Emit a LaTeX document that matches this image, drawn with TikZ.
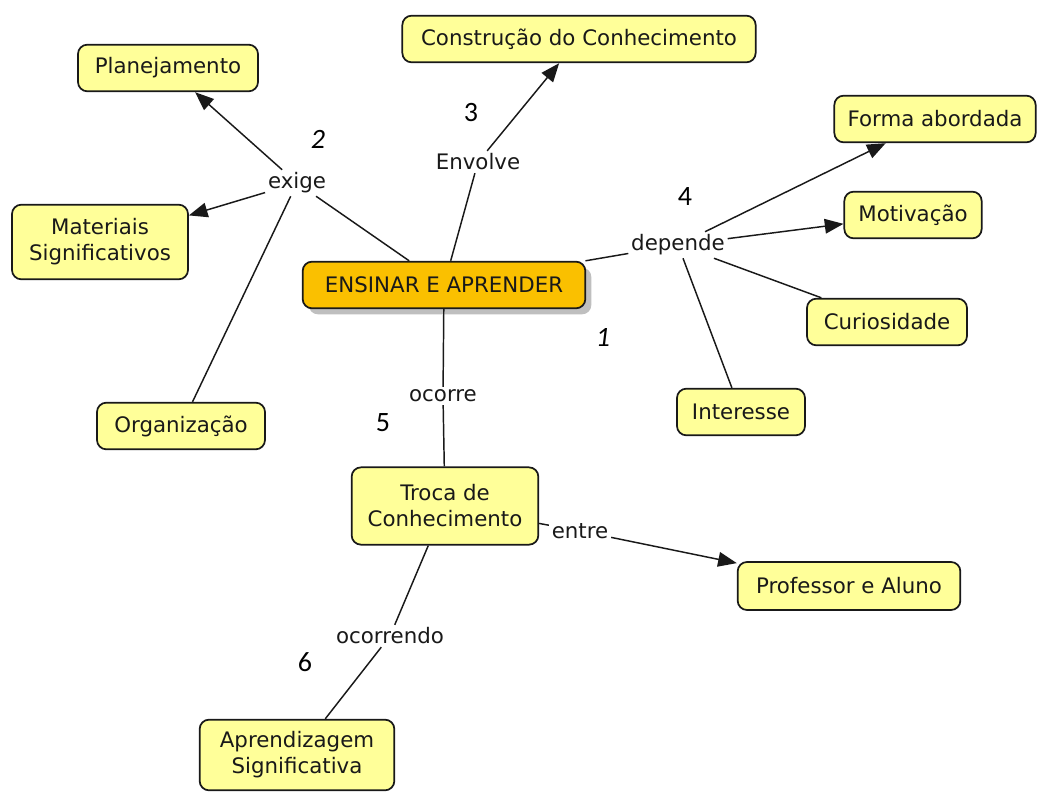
\documentclass[tikz,border=0pt]{standalone}
\usepackage{fontspec}
\setmainfont{DejaVu Sans}
\newfontfamily\numfont{Carlito}
\usetikzlibrary{arrows.meta,shadows}
\definecolor{conceptfill}{RGB}{255,255,153}
\definecolor{mainfill}{RGB}{250,192,0}
\definecolor{inkdark}{RGB}{25,25,25}
\begin{document}
\begin{tikzpicture}[x=0.75pt,y=-0.75pt,
  concept/.style={draw=inkdark,line width=1.3pt,rounded corners=7pt,fill=conceptfill,
    align=center,inner sep=2pt,font=\fontsize{16}{19.5}\selectfont,text=inkdark,
    minimum height=35pt},
  mainconcept/.style={concept,fill=mainfill,
    drop shadow={shadow xshift=4.5pt,shadow yshift=-4.5pt,fill=black!25,opacity=1}},
  linkword/.style={inner sep=2pt,font=\fontsize{16}{19}\selectfont,text=inkdark},
  stepnum/.style={font=\numfont\fontsize{21}{24}\selectfont,text=black},
  link/.style={draw=inkdark,line width=1.1pt},
  linkarrow/.style={link,-{Triangle[length=14pt,width=11pt]}}]
\useasboundingbox (0,0) rectangle (1040,792);

% concepts
\node[mainconcept,minimum width=212pt] (ens) at (444,285) {ENSINAR E APRENDER};
\node[concept,minimum width=135pt] (plan) at (168,68) {Planejamento};
\node[concept,minimum width=265pt] (const) at (579,39) {Construção do Conhecimento};
\node[concept,minimum width=151pt] (forma) at (935,119) {Forma abordada};
\node[concept,minimum width=103pt] (motiv) at (913,215) {Motivação};
\node[concept,minimum width=132pt,minimum height=56pt] (mat) at (100,242) {Materiais\\Significativos};
\node[concept,minimum width=120pt] (curio) at (887,322) {Curiosidade};
\node[concept,minimum width=96pt] (inter) at (741,412) {Interesse};
\node[concept,minimum width=126pt] (org) at (181,426) {Organização};
\node[concept,minimum width=140pt,minimum height=58pt] (troca) at (445,506) {Troca de\\Conhecimento};
\node[concept,minimum width=167pt,minimum height=36pt] (prof) at (849,586) {Professor e Aluno};
\node[concept,minimum width=146pt,minimum height=53pt] (aprend) at (297,755) {Aprendizagem\\Significativa};

% linking phrases
\node[linkword] (exige) at (297,183) {exige};
\node[linkword] (envolve) at (478,162) {Envolve};
\node[linkword] (depende) at (678,245) {depende};
\node[linkword] (ocorre) at (443,396) {ocorre};
\node[linkword] (entre) at (580,531) {entre};
\node[linkword] (ocorrendo) at (390,636) {ocorrendo};

% step numbers
\node[stepnum] (n1) at (603,337) {\itshape 1};
\node[stepnum] (n2) at (318,139) {\itshape 2};
\node[stepnum] (n3) at (471,113) {3};
\node[stepnum] (n4) at (685,197) {4};
\node[stepnum] (n5) at (383,423) {5};
\node[stepnum] (n6) at (305,662) {6};

% connectors
\draw[link] (ens) -- (exige);
\draw[linkarrow] (exige) -- (plan);
\draw[linkarrow] (exige) -- (mat);
\draw[link] (org) -- (exige);

\draw[link] (ens) -- (envolve);
\draw[linkarrow] (envolve) -- (const);

\draw[link] (ens) -- (depende);
\draw[linkarrow] (depende) -- (forma);
\draw[linkarrow] (depende) -- (motiv);
\draw[link] (depende) -- (curio);
\draw[link] (depende) -- (inter);

\draw[link] (ens) -- (ocorre);
\draw[link] (ocorre) -- (troca);

\draw[link] (troca) -- (entre);
\draw[linkarrow] (entre) -- (prof);

\draw[link] (troca) -- (ocorrendo);
\draw[link] (ocorrendo) -- (aprend);
\end{tikzpicture}
\end{document}
